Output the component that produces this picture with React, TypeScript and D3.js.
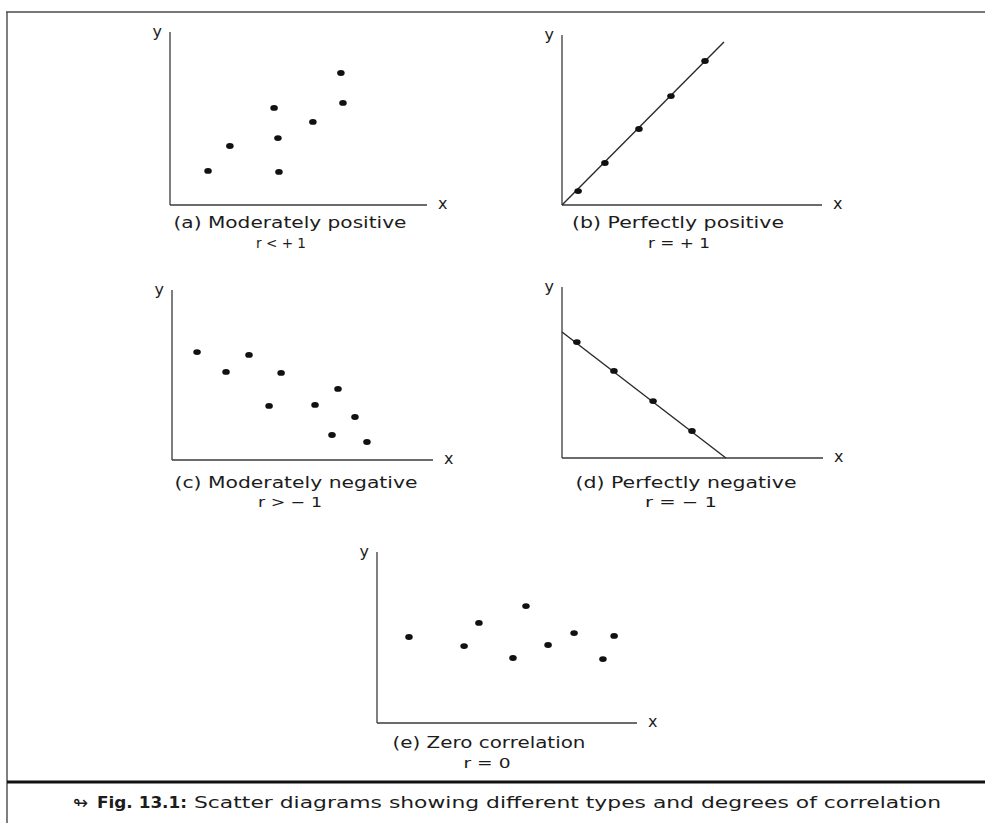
import React, { useEffect } from "react";
import * as d3 from "d3";

// ---------- data (arbitrary units 0..10 on both axes) ----------
const panelIds = ["a", "b", "c", "d", "e"];
const captions = [
  "(a) Moderately positive",
  "(b) Perfectly positive",
  "(c) Moderately negative",
  "(d) Perfectly negative",
  "(e) Zero correlation",
];
const rLabels = ["r < + 1", "r = + 1", "r > − 1", "r = − 1", "r = 0"];

const pointsA: [number, number][] = [
  [1.48, 1.97], [2.33, 3.41], [4.05, 5.61], [4.2, 3.87],
  [4.24, 1.91], [5.56, 4.8], [6.65, 7.63], [6.73, 5.9],
];
const pointsB: [number, number][] = [
  [0.62, 0.82], [1.65, 2.47], [2.96, 4.47], [4.19, 6.41], [5.5, 8.47],
];
const lineB: [number, number][] = [[0, 0], [6.23, 9.59]];
const pointsC: [number, number][] = [
  [0.96, 6.35], [2.07, 5.18], [2.95, 6.18], [4.18, 5.12], [3.72, 3.18],
  [5.48, 3.24], [6.36, 4.18], [7.01, 2.53], [6.13, 1.47], [7.47, 1.06],
];
const pointsD: [number, number][] = [
  [0.57, 6.78], [1.99, 5.09], [3.49, 3.33], [4.98, 1.58],
];
const lineD: [number, number][] = [[0, 7.37], [6.28, 0]];
const pointsE: [number, number][] = [
  [1.23, 5.03], [3.35, 4.5], [3.92, 5.85], [5.23, 3.8], [5.73, 6.84],
  [6.58, 4.56], [7.58, 5.26], [8.69, 3.74], [9.12, 5.09],
];
const panelPoints = [pointsA, pointsB, pointsC, pointsD, pointsE];
const panelLines: ([number, number][] | null)[] = [null, lineB, null, lineD, null];

const figLabel = "Fig. 13.1:";
const figText = "Scatter diagrams showing different types and degrees of correlation";

// ---------- layout (pixels) ----------
interface Layout {
  ox: number; oy: number; w: number; h: number;
  capX: number; capY: number; capW: number;
  rX: number; rY: number; rW: number;
}
const layouts: Layout[] = [
  { ox: 170, oy: 205, w: 257, h: 173, capX: 290, capY: 228, capW: 233, rX: 281, rY: 248, rW: 50 },
  { ox: 562, oy: 205, w: 260, h: 170, capX: 678, capY: 228, capW: 212, rX: 679, rY: 248, rW: 62 },
  { ox: 172, oy: 460, w: 261, h: 170, capX: 296, capY: 488, capW: 243, rX: 290, rY: 507, rW: 64 },
  { ox: 562, oy: 458, w: 261, h: 171, capX: 686, capY: 488, capW: 221, rX: 681, rY: 507, rW: 72 },
  { ox: 377, oy: 723, w: 260, h: 171, capX: 489, capY: 748, capW: 193, rX: 487, rY: 768, rW: 47 },
];

const FONT = "'DejaVu Sans', Verdana, sans-serif";
const INK = "#1c1c1c";

function Panel({ idx }: { idx: number }) {
  const L = layouts[idx];
  const x = d3.scaleLinear().domain([0, 10]).range([L.ox, L.ox + L.w]);
  const y = d3.scaleLinear().domain([0, 10]).range([L.oy, L.oy - L.h]);
  const pts = panelPoints[idx];
  const ln = panelLines[idx];
  const lineGen = d3.line<[number, number]>().x((d) => x(d[0])).y((d) => y(d[1]));
  return (
    <g>
      <line x1={x(0)} y1={y(0)} x2={x(0)} y2={y(10)} stroke="#3a3a3a" strokeWidth={1.3} />
      <line x1={x(0)} y1={y(0)} x2={x(10)} y2={y(0)} stroke="#3a3a3a" strokeWidth={1.3} />
      <text x={x(0) - 8} y={y(10) + 5} fontFamily={FONT} fontSize={16} fill={INK} textAnchor="end">y</text>
      <text x={x(10) + 11} y={y(0) + 4} fontFamily={FONT} fontSize={16} fill={INK}>x</text>
      {ln && <path d={lineGen(ln) || ""} stroke="#2a2a2a" strokeWidth={1.4} fill="none" />}
      {pts.map((p, i) => (
        <ellipse key={i} cx={x(p[0])} cy={y(p[1])} rx={3.8} ry={2.9} fill="#111" />
      ))}
      <text x={L.capX} y={L.capY} fontFamily={FONT} fontSize={15} fill={INK} textAnchor="middle"
        textLength={L.capW} lengthAdjust="spacingAndGlyphs">{captions[idx]}</text>
      <text x={L.rX} y={L.rY} fontFamily={FONT} fontSize={14} fill={INK} textAnchor="middle"
        textLength={L.rW} lengthAdjust="spacingAndGlyphs">{rLabels[idx]}</text>
    </g>
  );
}

export default function App() {
  useEffect(() => {
    document.body.style.margin = "0";
  }, []);
  return (
    <svg width={985} height={823} viewBox="0 0 985 823" style={{ display: "block", background: "#fff" }}>
      <rect x={0} y={0} width={985} height={823} fill="#fff" />
      {/* frame */}
      <line x1={6} y1={12} x2={985} y2={12} stroke="#777" strokeWidth={2} />
      <line x1={7} y1={12} x2={7} y2={823} stroke="#555" strokeWidth={1.5} />
      <line x1={7} y1={782} x2={985} y2={782} stroke="#111" strokeWidth={3} />
      {panelIds.map((id, i) => (
        <Panel key={id} idx={i} />
      ))}
      {/* figure caption */}
      <text x={73} y={809} fontFamily="'DejaVu Sans', sans-serif" fontSize={18} fill={INK}>↬</text>
      <text x={97} y={808} fontFamily={FONT} fontSize={15} fontWeight="bold" fill={INK}
        textLength={90} lengthAdjust="spacingAndGlyphs">{figLabel}</text>
      <text x={194} y={808} fontFamily={FONT} fontSize={15} fill={INK}
        textLength={747} lengthAdjust="spacingAndGlyphs">{figText}</text>
    </svg>
  );
}
